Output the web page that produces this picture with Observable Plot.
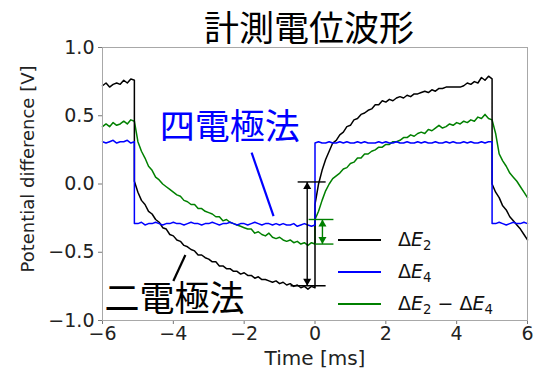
<!DOCTYPE html>
<html>
<head>
<meta charset="utf-8">
<script src="https://cdn.jsdelivr.net/npm/d3@7"></script>
<script src="https://cdn.jsdelivr.net/npm/@observablehq/plot@0.6"></script>
<style>
  body { margin: 0; background: #fff; }
  #wrap { position: relative; width: 535px; height: 370px; }
  #legend { position: absolute; left: 338px; top: 224px; font-family: "DejaVu Sans", sans-serif; font-size: 19px; color: #111; }
  .row { position: absolute; left: 0; height: 32px; width: 200px; }
  .row .ln { position: absolute; left: 0; top: 15px; width: 43px; height: 2px; display: block; }
  .row .lb { position: absolute; left: 60px; top: 2px; white-space: nowrap; line-height: 26px; }
  .row i { font-style: oblique; }
  .row sub { font-size: 70%; vertical-align: -0.28em; line-height: 0; }
</style>
</head>
<body>
<div id="wrap"></div>
<script>
const step = 0.1;
// ΔE2 (black)
const e2Segments = [
  { t0: -6.0, v: [0.72,0.74,0.71,0.73,0.74,0.73,0.76,0.74,0.77,0.76] },
  { t0: -5.1, v: [0.02,-0.06,-0.12,-0.15,-0.20,-0.22,-0.26,-0.28,-0.32,-0.33,-0.37,
                  -0.38,-0.41,-0.42,-0.45,-0.46,-0.48,-0.49,-0.52,-0.52,-0.54,
                  -0.55,-0.57,-0.57,-0.60,-0.60,-0.62,-0.62,-0.64,-0.64,-0.66,
                  -0.65,-0.67,-0.67,-0.69,-0.68,-0.70,-0.70,-0.71,-0.72,-0.71,
                  -0.73,-0.72,-0.74,-0.73,-0.75,-0.74,-0.76,-0.75,-0.77,-0.75,-0.76] },
  { t0: 0.0, v: [-0.15,0.00,0.10,0.18,0.24,0.30,0.32,0.36,0.38,0.42,
                 0.43,0.47,0.48,0.51,0.52,0.54,0.55,0.58,0.58,0.61,
                 0.60,0.62,0.61,0.63,0.64,0.63,0.65,0.64,0.66,0.66,
                 0.67,0.68,0.67,0.69,0.68,0.70,0.70,0.71,0.71,0.71,
                 0.71,0.71,0.72,0.74,0.73,0.75,0.74,0.78,0.76,0.79,0.77] },
  { t0: 5.0, v: [0.00,-0.06,-0.10,-0.16,-0.19,-0.24,-0.27,-0.30,-0.33,-0.37,-0.41] }
];
// ΔE4 (blue)
const e4Segments = [
  { t0: -6.0, v: [0.31,0.30,0.31,0.32,0.30,0.31,0.31,0.32,0.30,0.31] },
  { t0: -5.1, v: [-0.29,-0.29,-0.28,-0.30,-0.29,-0.29,-0.28,-0.29,-0.30,-0.29,
                  -0.29,-0.28,-0.29,-0.29,-0.30,-0.29,-0.28,-0.29,-0.29,-0.30,
                  -0.29,-0.29,-0.28,-0.29,-0.30,-0.29,-0.29,-0.28,-0.29,-0.30,
                  -0.29,-0.29,-0.30,-0.29,-0.28,-0.29,-0.30,-0.29,-0.29,-0.30,
                  -0.29,-0.30,-0.29,-0.30,-0.30,-0.29,-0.31,-0.30,-0.29,-0.30,-0.31,-0.30] },
  { t0: 0.0, v: [0.30,0.31,0.30,0.30,0.31,0.30,0.30,0.31,0.30,0.31,
                 0.30,0.30,0.31,0.30,0.31,0.30,0.30,0.30,0.31,0.30,
                 0.31,0.30,0.30,0.31,0.30,0.30,0.31,0.30,0.30,0.31,
                 0.30,0.31,0.30,0.30,0.31,0.30,0.30,0.31,0.30,0.31,
                 0.30,0.30,0.31,0.30,0.31,0.30,0.30,0.31,0.30,0.31,0.31] },
  { t0: 5.0, v: [-0.29,-0.29,-0.28,-0.29,-0.30,-0.29,-0.28,-0.29,-0.29,-0.28,-0.29] }
];
// ΔE2 − ΔE4 (green)
const diffSegments = [
  { t0: -6.0, v: [0.42,0.44,0.42,0.45,0.43,0.44,0.46,0.44,0.47,0.46] },
  { t0: -5.0, v: [0.31,0.24,0.19,0.13,0.10,0.05,0.03,0.00,-0.02,-0.04,
                  -0.06,-0.08,-0.09,-0.12,-0.13,-0.15,-0.15,-0.18,-0.18,-0.20,
                  -0.21,-0.22,-0.24,-0.24,-0.27,-0.26,-0.28,-0.29,-0.30,-0.31,
                  -0.32,-0.33,-0.33,-0.36,-0.35,-0.37,-0.38,-0.36,-0.39,-0.40,
                  -0.39,-0.41,-0.42,-0.41,-0.43,-0.42,-0.44,-0.43,-0.45,-0.43,-0.44] },
  { t0: 0.0, v: [-0.26,-0.20,-0.12,-0.05,0.00,0.04,0.06,0.08,0.11,0.12,
                 0.15,0.16,0.19,0.19,0.22,0.22,0.24,0.25,0.27,0.27,
                 0.29,0.29,0.31,0.31,0.32,0.34,0.34,0.36,0.35,0.37,
                 0.38,0.37,0.40,0.39,0.41,0.43,0.41,0.42,0.44,0.43,
                 0.45,0.44,0.46,0.45,0.47,0.46,0.49,0.48,0.51,0.48,0.47] },
  { t0: 5.1, v: [0.37,0.22,0.17,0.13,0.08,0.05,0.02,-0.02,-0.06,-0.10] }
];

// axis ticks
const xTicks = [-6, -4, -2, 0, 2, 4, 6];
const yTicks = [-1.0, -0.5, 0.0, 0.5, 1.0];

// annotations (data units)
const measureLines = [ // horizontal guide lines
  { x1: -0.49, x2: 0.30, y: 0.015, c: "#000" },
  { x1: -0.69, x2: 0.30, y: -0.745, c: "#000" },
  { x1: -0.18, x2: 0.52, y: -0.26, c: "#008000" },
  { x1: 0.0, x2: 0.52, y: -0.44, c: "#008000" }
];
const measureArrows = [
  { x: -0.22, top: 0.015, bottom: -0.745, c: "#000" },
  { x: 0.21, top: -0.26, bottom: -0.44, c: "#008000" }
];
const pointers = [
  { x1: -1.79, y1: 0.23, x2: -1.17, y2: -0.235, c: "#0000ff" },
  { x1: -3.66, y1: -0.52, x2: -4.0, y2: -0.71, c: "#000" }
];
const labels = [
  { x: -2.41, y: 0.41, text: "四電極法", c: "#0000ff" },
  { x: -3.97, y: -0.85, text: "二電極法", c: "#000" }
];

const toRows = (segs) => segs.flatMap(s => s.v.map((v, i) => ({ t: Math.round((s.t0 + i * step) * 100) / 100, v })));
const e2 = toRows(e2Segments), e4 = toRows(e4Segments), diff = toRows(diffSegments);
const minus = s => s.replace("-", "\u2212");
const cjk = "'Noto Sans CJK JP', 'Noto Sans CJK SC', sans-serif";

const chart = Plot.plot({
  width: 535,
  height: 370,
  marginTop: 47,
  marginBottom: 50,
  marginLeft: 102,
  marginRight: 8,
  style: { fontFamily: "DejaVu Sans", background: "#fff", overflow: "visible" },
  x: { domain: [-6, 6] },
  y: { domain: [-1, 1] },
  marks: [
    Plot.axisX({ ticks: xTicks, tickSize: 4, tickPadding: 2, fontSize: 19, stroke: "#777", fill: "#222", tickFormat: d => minus(String(d)), label: null }),
    Plot.axisY({ ticks: yTicks, tickSize: 4, tickPadding: 4, fontSize: 19, stroke: "#777", fill: "#222", tickFormat: d => minus(d.toFixed(1)), label: null }),
    Plot.lineY(diff, { x: "t", y: "v", stroke: "#008000", strokeWidth: 1.5 }),
    Plot.lineY(e2, { x: "t", y: "v", stroke: "#000", strokeWidth: 1.5 }),
    Plot.lineY(e4, { x: "t", y: "v", stroke: "#0000ff", strokeWidth: 1.5 }),
    Plot.link(measureLines, { x1: "x1", x2: "x2", y1: "y", y2: "y", stroke: "c", strokeWidth: 1.4 }),
    Plot.link(measureArrows, { x1: "x", x2: "x", y1: "top", y2: "bottom", stroke: "c", strokeWidth: 1.4 }),
    Plot.dot(measureArrows, { x: "x", y: "top", symbol: "triangle", r: 3, fill: "c", stroke: null, dy: 4.7 }),
    Plot.dot(measureArrows, { x: "x", y: "bottom", symbol: "triangle", r: 3, fill: "c", stroke: null, rotate: 180, dy: -4.7 }),
    Plot.link(pointers, { x1: "x1", y1: "y1", x2: "x2", y2: "y2", stroke: "c", strokeWidth: 2.2 }),
    Plot.text(labels, { x: "x", y: "y", text: "text", fill: "c", fontSize: 35, fontFamily: cjk }),
    Plot.frame({ stroke: "#a8a8a8", strokeWidth: 1 }),
    Plot.text(["計測電位波形"], { frameAnchor: "top", textAnchor: "middle", lineAnchor: "middle", dx: -6, dy: -18, fontSize: 35, fontFamily: cjk, fill: "#000" }),
    Plot.text(["Time [ms]"], { frameAnchor: "bottom", textAnchor: "middle", lineAnchor: "middle", dy: 38, fontSize: 20, fill: "#222" }),
    Plot.text(["Potential difference [V]"], { frameAnchor: "left", textAnchor: "middle", lineAnchor: "middle", rotate: -90, dx: -74, dy: -15, fontSize: 18, fill: "#222" })
  ]
});

const wrap = document.getElementById("wrap");
wrap.appendChild(chart);

// legend
const legendItems = [
  { c: "#000000", html: "Δ<i>E</i><sub>2</sub>" },
  { c: "#0000ff", html: "Δ<i>E</i><sub>4</sub>" },
  { c: "#008000", html: "Δ<i>E</i><sub>2</sub> \u2212 Δ<i>E</i><sub>4</sub>" }
];
const legend = document.createElement("div");
legend.id = "legend";
legendItems.forEach((it, i) => {
  const row = document.createElement("div");
  row.className = "row";
  row.style.top = (i * 32) + "px";
  const ln = document.createElement("span");
  ln.className = "ln";
  ln.style.backgroundColor = it.c;
  const lb = document.createElement("span");
  lb.className = "lb";
  lb.innerHTML = it.html;
  row.appendChild(ln);
  row.appendChild(lb);
  legend.appendChild(row);
});
wrap.appendChild(legend);
</script>
</body>
</html>
